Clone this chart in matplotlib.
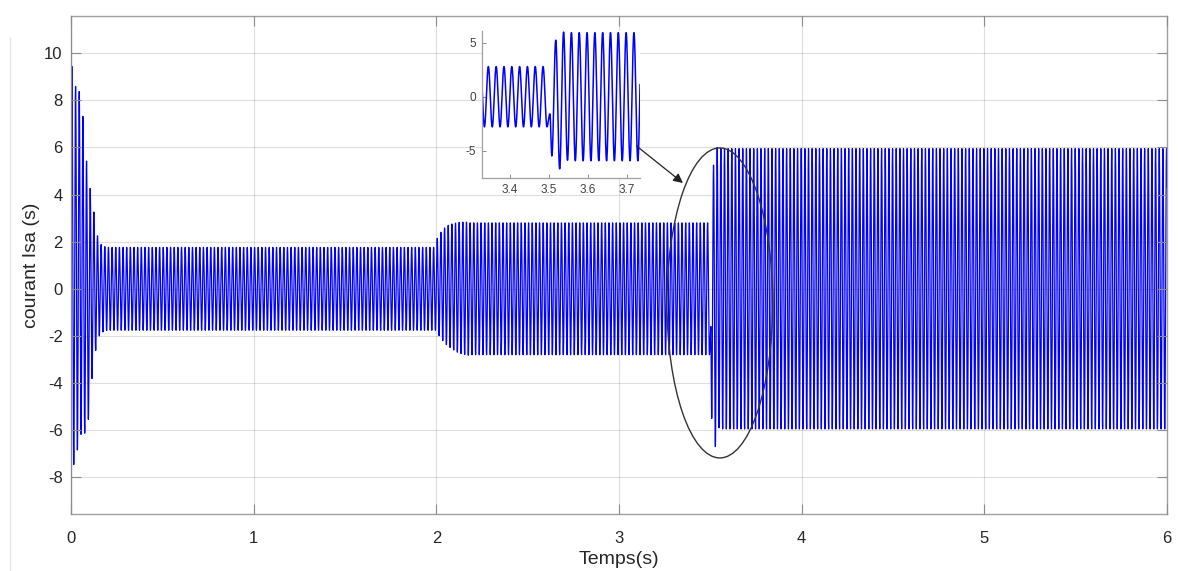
import numpy as np
import matplotlib.pyplot as plt
from matplotlib.patches import Ellipse, ConnectionPatch

plt.rcParams['font.family'] = ['Liberation Sans', 'DejaVu Sans']
plt.rcParams['axes.unicode_minus'] = False

# signal description
freq = 50.0                      # Hz
t_end = 6.0
t_step2 = 2.0
t_step3 = 3.5

# successive extrema (one every half cycle) of the start-up transient
start_peaks = [9.44, -7.46, 8.59, -6.84, 8.37, -6.18, 7.32, -6.13, 5.42, -5.54,
               4.26, -3.81, 3.26, -2.62, 2.25, -2.00, 1.88, -1.83, 1.79, -1.77]
amp1 = 1.76

# extrema after the load step at 2 s
step2_peaks = [2.14, -1.99, 2.40, -2.20, 2.58, -2.37, 2.69, -2.49, 2.75, -2.60,
               2.79, -2.69, 2.82, -2.75, 2.83, -2.79, 2.83, -2.82]
amp2 = 2.80

# extrema after the step at 3.5 s (glitch first)
glitch = -1.6
step3_peaks = [-5.5, 5.25, -6.7, 6.0, -5.9]
amp3 = 5.95

# build list of extrema
half = 0.5 / freq
ext_t = [0.0]
ext_v = [0.0]
i = 0
t = half / 2
while t < t_step3:
    if t < t_step2:
        v = start_peaks[i] if i < len(start_peaks) else (amp1 if i % 2 == 0 else -amp1)
    else:
        j = i - int(round((t_step2 - half / 2) / half))
        v = step2_peaks[j] if j < len(step2_peaks) else (amp2 if i % 2 == 0 else -amp2)
    ext_t.append(t)
    ext_v.append(v)
    i += 1
    t = half / 2 + i * half

ext_t.append(t_step3 + 0.0025)
ext_v.append(glitch)
k = 0
t = t_step3 + 0.0075
while t <= t_end + 0.02:
    v = step3_peaks[k] if k < len(step3_peaks) else (-amp3 if k % 2 == 0 else amp3)
    ext_t.append(t)
    ext_v.append(v)
    k += 1
    t = t_step3 + 0.0075 + k * half

ext_t = np.array(ext_t)
ext_v = np.array(ext_v)

time = np.arange(0, t_end, 0.0001)
idx = np.clip(np.searchsorted(ext_t, time, side='right') - 1, 0, len(ext_t) - 2)
frac = (time - ext_t[idx]) / (ext_t[idx + 1] - ext_t[idx])
isa = ext_v[idx] + (ext_v[idx + 1] - ext_v[idx]) * (1 - np.cos(np.pi * frac)) / 2

fig = plt.figure(figsize=(11.78, 5.71), dpi=100)
ax = fig.add_axes([71 / 1178, 1 - 514 / 571, (1167 - 71) / 1178, (514 - 16) / 571])

ax.plot(time, isa, color='#0000ff', lw=0.9)
ax.set_xlim(0, 6)
ax.set_ylim(-9.56, 11.58)
ax.set_xticks(range(0, 7))
ax.set_yticks(range(-8, 11, 2))
ax.grid(True, color='#262626', alpha=0.15, lw=0.8)
ax.set_axisbelow(False)
ax.tick_params(direction='in', top=True, right=True, length=7, width=0.8,
               color='#8c8c8c', labelsize=12, labelcolor='#262626')
ax.tick_params(axis='x', pad=12)
ax.tick_params(axis='y', pad=6)
for s in ax.spines.values():
    s.set_color('#a0a0a0')
    s.set_linewidth(1.0)
ax.set_xlabel('Temps(s)', fontsize=14, color='#262626', labelpad=4)
ax.set_ylabel('courant Isa (s)', fontsize=14, color='#262626', labelpad=3)

ell = Ellipse((3.552, -0.60), width=0.579, height=13.16, fill=False,
              edgecolor='#333333', lw=1.0, zorder=5)
ax.add_patch(ell)

# inset zoom around the step at 3.5 s
axin = fig.add_axes([481.7 / 1178, 1 - 178 / 571, (640 - 481.7) / 1178, (178 - 31) / 571])
axin.plot(time, isa, color='#0000ff', lw=1.1)
axin.set_xlim(3.328, 3.733)
axin.set_ylim(-7.55, 6.1)
axin.set_xticks([3.4, 3.5, 3.6, 3.7])
axin.set_yticks([-5, 0, 5])
axin.set_facecolor('white')
axin.spines['top'].set_visible(False)
axin.spines['right'].set_visible(False)
for s in ['left', 'bottom']:
    axin.spines[s].set_color('#a0a0a0')
    axin.spines[s].set_linewidth(0.9)
axin.tick_params(direction='in', length=3, width=0.7, color='#8c8c8c',
                 labelsize=8.5, labelcolor='#404040', pad=4)

arrow = ConnectionPatch(xyA=(3.724, -4.57), coordsA=axin.transData,
                        xyB=(3.350, 4.49), coordsB=ax.transData,
                        arrowstyle='-|>', color='#222222', lw=0.9, mutation_scale=14)
fig.add_artist(arrow)

# faint window border on the left
fig.add_artist(plt.Line2D([10 / 1178, 10 / 1178], [0, 1 - 38 / 571], color='#e6e6e6', lw=1.0))

plt.savefig('out.png', dpi=100)
